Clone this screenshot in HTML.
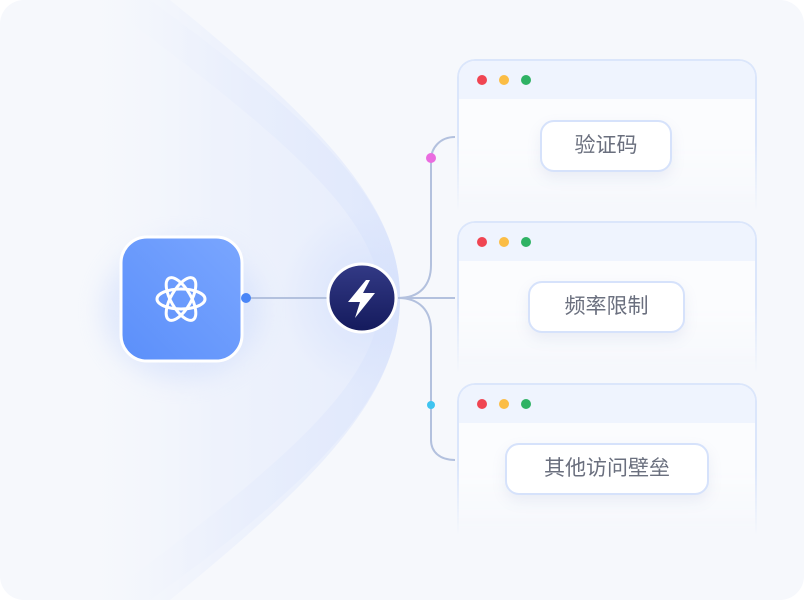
<!DOCTYPE html>
<html><head><meta charset="utf-8"><style>
body{margin:0;width:804px;height:600px;background:#fff;overflow:hidden;font-family:"Liberation Sans","Noto Sans CJK SC",sans-serif}
.card{position:absolute;left:0;top:0;width:804px;height:600px;border-radius:24px;background:#f6f8fc;overflow:hidden}
.win{position:absolute;left:457px;width:296px;height:150px;border:2px solid #dbe6fb;border-bottom:none;border-radius:18px 18px 0 0;background:#fbfcfe;-webkit-mask-image:linear-gradient(#000 55%,transparent);mask-image:linear-gradient(#000 55%,transparent)}
.hd{height:38px;background:#eff4fe;border-radius:16px 16px 0 0;position:relative}
.d{position:absolute;top:14px;width:10px;height:10px;border-radius:50%}
.tag{position:absolute;height:48px;border:2px solid #d6e2fb;border-radius:14px;background:#fff;color:#6a6f7e;font-size:21px;line-height:48px;text-align:center;box-shadow:0 6px 14px rgba(120,140,190,.12)}
</style></head><body>
<div class="card">
<svg width="804" height="600" style="position:absolute;left:0;top:0">
<defs>
<linearGradient id="g" x1="0" y1="0" x2="1" y2="0"><stop offset="0" stop-color="#f6f8fc" stop-opacity="0"/><stop offset="0.45" stop-color="#e8eefc"/><stop offset="1" stop-color="#d9e3fb"/></linearGradient>
<radialGradient id="h" cx="370" cy="298" r="90" gradientUnits="userSpaceOnUse"><stop offset="0" stop-color="#d3dffc"/><stop offset="1" stop-color="#d3dffc" stop-opacity="0"/></radialGradient>
<clipPath id="c"><path d="M170 0 C330 130 400 210 400 298 C400 390 330 470 170 600 L0 600 L0 0Z"/></clipPath>
<linearGradient id="b" x1="0" y1="1" x2="1" y2="0"><stop offset="0" stop-color="#5b8ffa"/><stop offset="1" stop-color="#7aa6ff"/></linearGradient>
<linearGradient id="n" x1="0" y1="0" x2="0" y2="1"><stop offset="0" stop-color="#333a86"/><stop offset="1" stop-color="#141a5c"/></linearGradient>
</defs>
<path d="M150 0 C330 130 400 210 400 298 C400 390 330 470 150 600 L100 600 C290 460 380 380 380 298 C380 220 290 140 100 0Z" fill="url(#g)" opacity="0.6"/>
<path d="M170 0 C330 130 400 210 400 298 C400 390 330 470 170 600 L60 600 L60 0Z" fill="url(#g)" opacity="0.55"/>
<circle cx="370" cy="298" r="90" fill="url(#h)" opacity="0.8" clip-path="url(#c)"/>
<ellipse cx="182" cy="310" rx="80" ry="70" fill="#c9d8fb" opacity="0.45" filter="blur(12px)"/>
<g fill="none" stroke="#b3c1de" stroke-width="2">
<line x1="246" y1="298" x2="330" y2="298"/>
<path d="M398 298 C420 298 431 285 431 265 L431 160 C431 148 440 137 455 137"/>
<line x1="398" y1="298" x2="455" y2="298"/>
<path d="M398 298 C420 298 431 311 431 331 L431 440 C431 452 440 460 455 460"/>
</g>
<rect x="121" y="237" width="121" height="124" rx="26" fill="url(#b)" stroke="#fff" stroke-width="3"/>
<circle cx="246" cy="298" r="5" fill="#4a86f7"/>
<circle cx="431" cy="158" r="5" fill="#ea6ce0"/>
<circle cx="431" cy="405" r="4" fill="#3fc4f0"/>
<g fill="none" stroke="#fff" stroke-width="3" transform="translate(181 299)">
<ellipse rx="24" ry="10"/><ellipse rx="24" ry="10" transform="rotate(60)"/><ellipse rx="24" ry="10" transform="rotate(-60)"/></g>
<circle cx="362" cy="298" r="34" fill="url(#n)" stroke="#fff" stroke-width="3"/>
<path d="M366 280 L348 302 L360 302 L355 318 L375 293 L363 293 L370 280Z" fill="#fff"/>
</svg>
<div class="win" style="top:59px"><div class="hd"><div class="d" style="left:18px;background:#f04552"></div><div class="d" style="left:40px;background:#fbbd45"></div><div class="d" style="left:62px;background:#2fb264"></div></div></div>
<div class="win" style="top:221px"><div class="hd"><div class="d" style="left:18px;background:#f04552"></div><div class="d" style="left:40px;background:#fbbd45"></div><div class="d" style="left:62px;background:#2fb264"></div></div></div>
<div class="win" style="top:383px"><div class="hd"><div class="d" style="left:18px;background:#f04552"></div><div class="d" style="left:40px;background:#fbbd45"></div><div class="d" style="left:62px;background:#2fb264"></div></div></div>
<div class="tag" style="left:540px;top:120px;width:128px">验证码</div>
<div class="tag" style="left:528px;top:281px;width:153px">频率限制</div>
<div class="tag" style="left:505px;top:443px;width:200px">其他访问壁垒</div>
</div>
</body></html>
